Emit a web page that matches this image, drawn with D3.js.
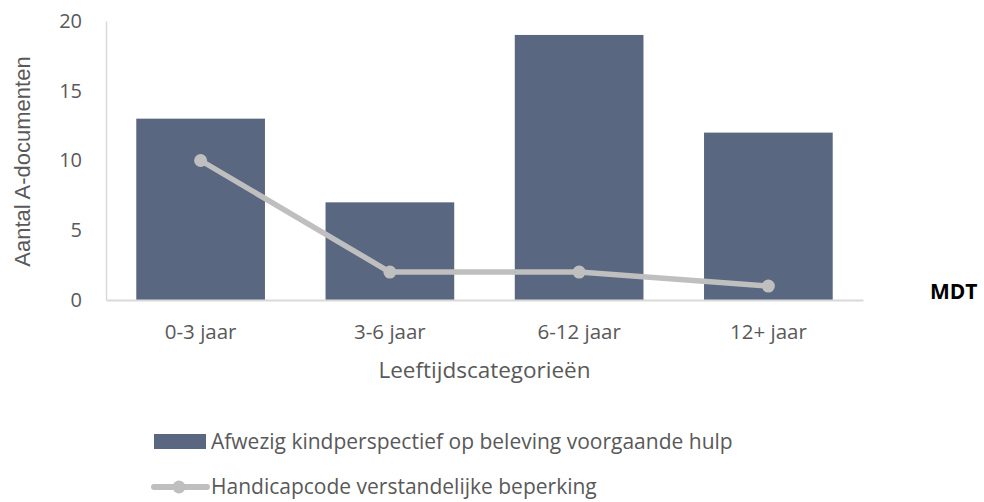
<!DOCTYPE html>
<html>
<head>
<meta charset="utf-8">
<script src="https://cdn.jsdelivr.net/npm/d3@7"></script>
<style>
  html, body { margin: 0; padding: 0; background: #fff; }
  svg text { font-family: "Open Sans", "Liberation Sans", sans-serif; fill: #595959; }
</style>
</head>
<body>
<svg id="chart" width="984" height="502"></svg>
<script>
// Age categories and counts per category
const categories = ["0-3 jaar", "3-6 jaar", "6-12 jaar", "12+ jaar"];
const barValues = [13, 7, 19, 12];
const lineValues = [10, 2, 2, 1];
const yTicks = [0, 5, 10, 15, 20];
const barLabel = "Afwezig kindperspectief op beleving voorgaande hulp";
const lineLabel = "Handicapcode verstandelijke beperking";

const svg = d3.select("#chart");
const plot = { left: 106, right: 863, top: 21, bottom: 300 };

const x = d3.scaleBand().domain(categories).range([plot.left, plot.right]).paddingInner(0.32).paddingOuter(0.16);
const y = d3.scaleLinear().domain([0, 20]).range([plot.bottom, plot.top]);

const barColor = "#5a6780";
const lineColor = "#bfbfbf";
const labelSize = "20.5px";

// Y axis (labels only, plus a light axis line)
const yAxis = svg.append("g").attr("transform", `translate(${plot.left},0)`)
  .call(d3.axisLeft(y).tickValues(yTicks).tickSize(0).tickPadding(24));
yAxis.select(".domain").attr("stroke", "#d9d9d9").attr("stroke-width", 1.5);
yAxis.selectAll("text").style("font-size", "20px").style("fill", "#595959").style("font-family", "Open Sans");

// Bars
svg.append("g").selectAll("rect").data(categories).join("rect")
  .attr("x", d => x(d))
  .attr("width", x.bandwidth())
  .attr("y", (d, i) => y(barValues[i]))
  .attr("height", (d, i) => y(0) - y(barValues[i]))
  .attr("fill", barColor);

// X axis
const xAxis = svg.append("g").attr("transform", `translate(0,${plot.bottom})`)
  .call(d3.axisBottom(x).tickSize(0).tickPadding(24));
xAxis.select(".domain").attr("stroke", "#d9d9d9").attr("stroke-width", 2);
xAxis.selectAll("text").style("font-size", labelSize).style("fill", "#595959").style("font-family", "Open Sans");

// Line series with markers
const cx = d => x(d) + x.bandwidth() / 2;
const line = d3.line().x((d, i) => cx(categories[i])).y(d => y(d));
svg.append("path").datum(lineValues)
  .attr("d", line).attr("fill", "none")
  .attr("stroke", lineColor).attr("stroke-width", 5.5).attr("stroke-linejoin", "round");
svg.append("g").selectAll("circle").data(lineValues).join("circle")
  .attr("cx", (d, i) => cx(categories[i]))
  .attr("cy", d => y(d))
  .attr("r", 6.5)
  .attr("fill", lineColor);

// Axis titles
svg.append("text")
  .attr("transform", `translate(30,${(plot.top + plot.bottom) / 2 + 1}) rotate(-90)`)
  .attr("text-anchor", "middle")
  .style("font-family", "'Liberation Sans', Arial, sans-serif")
  .style("font-size", "22px")
  .text("Aantal A-documenten");
svg.append("text")
  .attr("x", (plot.left + plot.right) / 2)
  .attr("y", 378)
  .attr("text-anchor", "middle")
  .style("font-size", "22.5px")
  .text("Leeftijdscategorieën");

// MDT label
svg.append("text")
  .attr("x", 930).attr("y", 299)
  .style("font-size", "21px").style("font-weight", "bold").style("fill", "#000")
  .text("MDT");

// Legend
const lg = svg.append("g");
lg.append("rect").attr("x", 154).attr("y", 434).attr("width", 52).attr("height", 15).attr("fill", barColor);
lg.append("text").attr("x", 211).attr("y", 449).style("font-size", "21px").text(barLabel);
lg.append("line").attr("x1", 154).attr("x2", 207).attr("y1", 487).attr("y2", 487)
  .attr("stroke", lineColor).attr("stroke-width", 6).attr("stroke-linecap", "round");
lg.append("circle").attr("cx", 179).attr("cy", 487).attr("r", 6.5).attr("fill", lineColor);
lg.append("text").attr("x", 211).attr("y", 494).style("font-size", "21px").text(lineLabel);
</script>
</body>
</html>
